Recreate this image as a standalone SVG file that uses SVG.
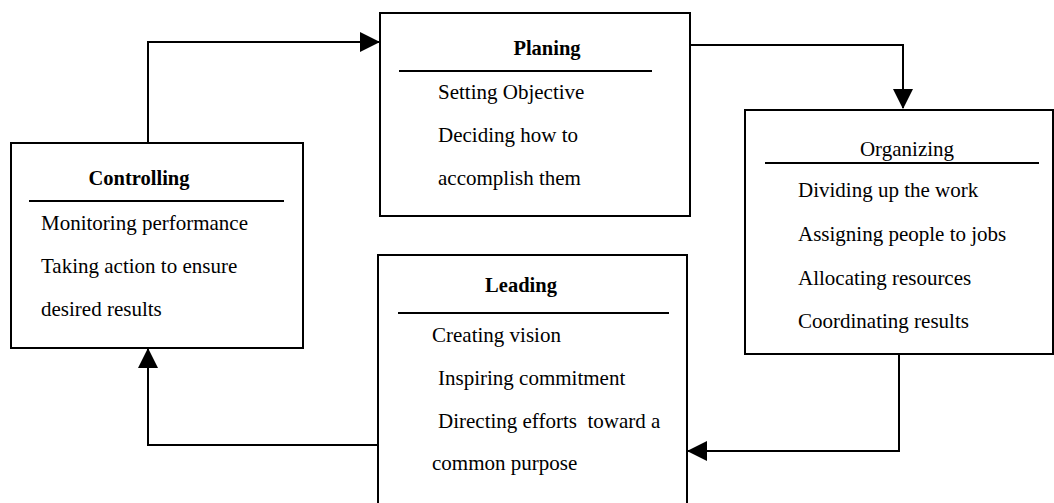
<svg xmlns="http://www.w3.org/2000/svg" width="1054" height="503" viewBox="0 0 1054 503">
  <style>
    .box { fill: #ffffff; stroke: #000000; stroke-width: 2; }
    .rule { stroke: #000000; stroke-width: 2; }
    .conn { fill: none; stroke: #000000; stroke-width: 2; }
    .title { font-family: "Liberation Serif", "Times New Roman", serif; font-size: 20.5px; font-weight: bold; fill: #000000; text-anchor: middle; }
    .title-plain { font-family: "Liberation Serif", "Times New Roman", serif; font-size: 21px; fill: #000000; text-anchor: middle; }
    .item { font-family: "Liberation Serif", "Times New Roman", serif; font-size: 21px; fill: #000000; }
  </style>
  <defs>
    <marker id="arrow" markerUnits="userSpaceOnUse" markerWidth="20" markerHeight="20" refX="19" refY="10" orient="auto">
      <path d="M0,0 L20,10 L0,20 Z" fill="#000000"/>
    </marker>
  </defs>

  <rect width="1054" height="503" fill="#ffffff"/>

  <!-- connectors -->
  <g id="connectors">
    <path class="conn" d="M148,143 V42 H379" marker-end="url(#arrow)"/>
    <path class="conn" d="M690,45 H903 V108" marker-end="url(#arrow)"/>
    <path class="conn" d="M899,354 V451 H688" marker-end="url(#arrow)"/>
    <path class="conn" d="M378,445 H148 V349" marker-end="url(#arrow)"/>
  </g>

  <!-- Planing -->
  <g id="planing">
    <rect class="box" x="380" y="13" width="310" height="203"/>
    <text class="title" x="547" y="55">Planing</text>
    <line class="rule" x1="399" y1="71" x2="652" y2="71"/>
    <text class="item" x="438" y="99">Setting Objective</text>
    <text class="item" x="438" y="142">Deciding how to</text>
    <text class="item" x="438" y="185">accomplish them</text>
  </g>

  <!-- Organizing -->
  <g id="organizing">
    <rect class="box" x="745" y="110" width="308" height="244"/>
    <text class="title-plain" x="907" y="156">Organizing</text>
    <line class="rule" x1="765" y1="163" x2="1039" y2="163"/>
    <text class="item" x="798" y="197">Dividing up the work</text>
    <text class="item" x="798" y="241">Assigning people to jobs</text>
    <text class="item" x="798" y="285">Allocating resources</text>
    <text class="item" x="798" y="328">Coordinating results</text>
  </g>

  <!-- Controlling -->
  <g id="controlling">
    <rect class="box" x="11" y="143" width="292" height="205"/>
    <text class="title" x="139" y="185">Controlling</text>
    <line class="rule" x1="29" y1="201" x2="284" y2="201"/>
    <text class="item" x="41" y="230">Monitoring performance</text>
    <text class="item" x="41" y="273">Taking action to ensure</text>
    <text class="item" x="41" y="316">desired results</text>
  </g>

  <!-- Leading -->
  <g id="leading">
    <rect class="box" x="378" y="255" width="309" height="260"/>
    <text class="title" x="521" y="292">Leading</text>
    <line class="rule" x1="398" y1="313" x2="669" y2="313"/>
    <text class="item" x="432" y="342">Creating vision</text>
    <text class="item" x="438" y="385">Inspiring commitment</text>
    <text class="item" x="438" y="428" xml:space="preserve">Directing efforts  toward a</text>
    <text class="item" x="432" y="470">common purpose</text>
  </g>
</svg>
